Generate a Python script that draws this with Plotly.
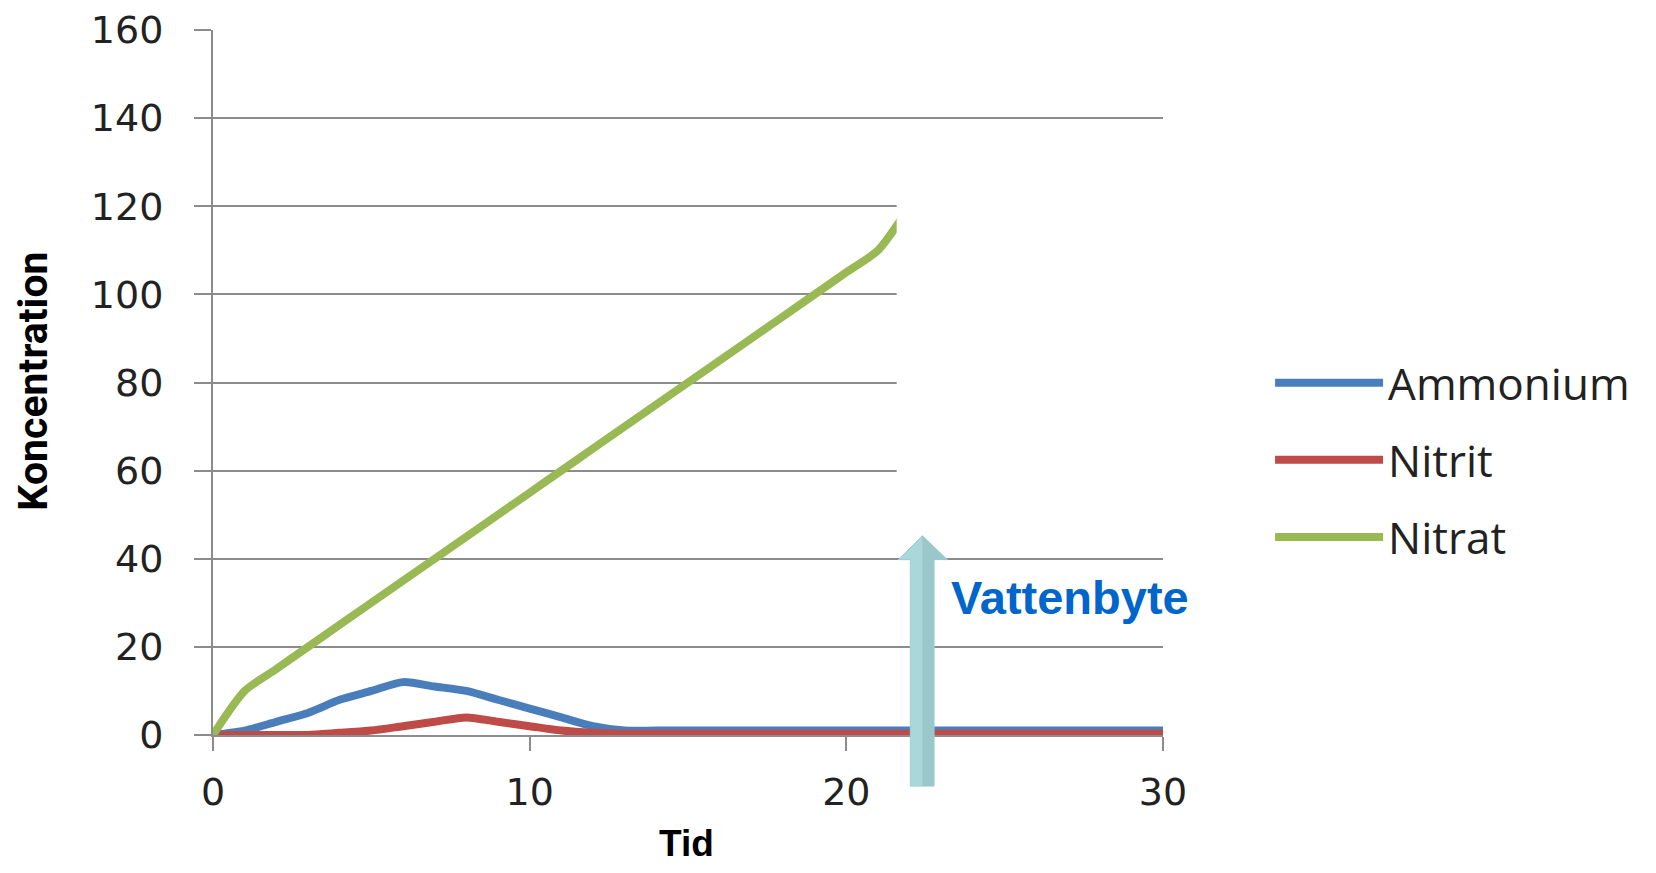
import plotly.graph_objects as go

# ---- data ----
tid = list(range(0, 31))
ammonium = [0, 1, 3, 5, 8, 10, 12, 11, 10, 8, 6, 4, 2, 1] + [1] * 17
nitrit = [0, 0, 0, 0, 0.5, 1, 2, 3, 4, 3, 2, 1, 0.5, 0.3] + [0.3] * 17
nitrat_tid = list(range(0, 23))
nitrat = [0, 10, 15, 20, 25, 30, 35, 40, 45, 50, 55, 60, 65, 70, 75, 80,
          85, 90, 95, 100, 105, 110, 120]

x_ticks = [0, 10, 20, 30]
y_ticks = [0, 20, 40, 60, 80, 100, 120, 140, 160]
X_MAX, Y_MAX = 30, 160

series = [
    ("Ammonium", tid, ammonium, "#4a7ebb"),
    ("Nitrit", tid, nitrit, "#be4b48"),
    ("Nitrat", nitrat_tid, nitrat, "#98b954"),
]

fig = go.Figure()
for name, xs, ys, col in series:
    fig.add_trace(go.Scatter(
        x=xs, y=ys, name=name, mode="lines", legendgroup=name,
        line=dict(color=col, width=8, shape="spline", smoothing=0.7),
    ))

GRID = "#8c8c8c"
TICKFONT = dict(family="DejaVu Sans", size=38, color="#222222")


def px(v):
    return v / X_MAX


def py(v):
    return v / Y_MAX


# white panel that masks part of the chart (as in the reference)
shapes = [dict(type="rect", xref="paper", yref="paper",
               x0=px(21.59), x1=1.01, y0=py(47), y1=py(135),
               fillcolor="white", line=dict(width=0), layer="above")]

# arrow ("Vattenbyte")
sl, sr, sb, hb, hl, hr, ht, cx = 22.02, 22.77, -11.6, 39.8, 21.64, 23.19, 45.2, 22.40
arrow_path = (f"M{px(sl)},{py(sb)} L{px(sr)},{py(sb)} L{px(sr)},{py(hb)} "
              f"L{px(hr)},{py(hb)} L{px(cx)},{py(ht)} L{px(hl)},{py(hb)} "
              f"L{px(sl)},{py(hb)} Z")
shapes.append(dict(type="path", xref="paper", yref="paper", path=arrow_path,
                   fillcolor="#a9d7da", line=dict(color="#a0ced1", width=1),
                   layer="above"))
strip_path = (f"M{px(cx)},{py(sb)} L{px(sr)},{py(sb)} L{px(sr)},{py(hb)} "
              f"L{px(hr)},{py(hb)} L{px(cx)},{py(ht)} Z")
shapes.append(dict(type="path", xref="paper", yref="paper", path=strip_path,
                   fillcolor="#99c7ca", line=dict(width=0), layer="above"))

fig.update_layout(
    width=1640, height=857,
    margin=dict(l=205, r=485, t=22, b=130),
    paper_bgcolor="white", plot_bgcolor="white",
    shapes=shapes,
    showlegend=True,
    legend=dict(
        x=1.1127, y=0.39, xanchor="left", yanchor="middle",
        font=dict(family="Open Sans", size=44, color="#222222"),
        itemwidth=108, tracegroupgap=17, bgcolor="rgba(0,0,0,0)",
    ),
    xaxis=dict(
        range=[0, X_MAX], tickvals=x_ticks, ticktext=[str(t) for t in x_ticks],
        showgrid=False, zeroline=False, showline=True, linecolor=GRID,
        linewidth=2, ticks="outside", ticklen=14, tickwidth=2, tickcolor=GRID,
        tickfont=TICKFONT, ticklabelstandoff=8, automargin=False,
    ),
    yaxis=dict(
        range=[0, Y_MAX], tickvals=y_ticks, ticktext=[str(t) for t in y_ticks],
        showgrid=True, gridcolor=GRID, gridwidth=2, zeroline=False,
        showline=True, linecolor=GRID, linewidth=2, ticks="outside",
        ticklen=17, tickwidth=2, tickcolor=GRID, tickfont=TICKFONT,
        ticklabelstandoff=23, automargin=False,
    ),
    annotations=[
        dict(text="<b>Koncentration</b>", xref="paper", yref="paper",
             x=px(-5.67), y=py(80.3), textangle=-90, showarrow=False,
             font=dict(family="Liberation Sans Narrow, Roboto", size=41,
                       color="black"),
             xanchor="center", yanchor="middle"),
        dict(text="<b>Tid</b>", xref="paper", yref="paper",
             x=px(14.95), y=py(-24.6), showarrow=False,
             font=dict(family="Liberation Sans", size=37, color="black"),
             xanchor="center", yanchor="middle"),
        dict(text="<b>Vattenbyte</b>", xref="x", yref="y",
             x=27.07, y=31.2, showarrow=False,
             font=dict(family="Liberation Sans", size=47, color="#0066cc"),
             xanchor="center", yanchor="middle"),
    ],
)

fig.write_html("out.html")
